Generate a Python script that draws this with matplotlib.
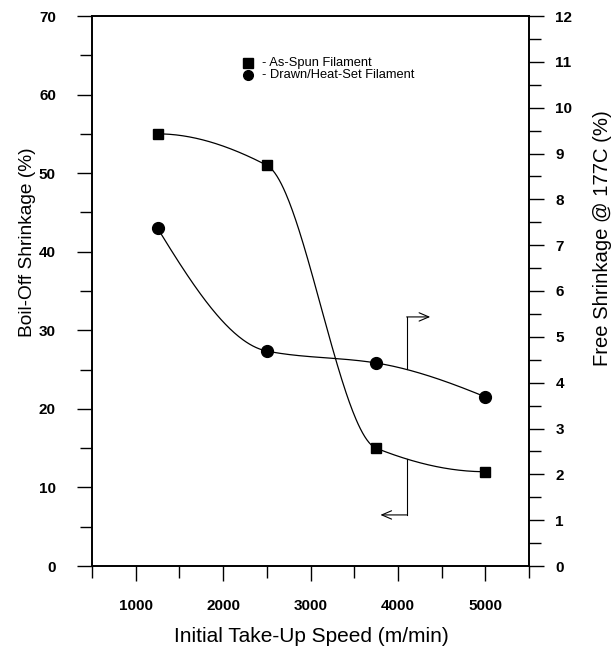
import numpy as np
import matplotlib
matplotlib.use("Agg")
import matplotlib.pyplot as plt
from matplotlib.ticker import MultipleLocator

plt.rcParams['font.family'] = ['Liberation Sans', 'DejaVu Sans']

# data
speed = [1250, 2500, 3750, 5000]
boil_off = [55.0, 51.0, 15.0, 12.0]          # as-spun filament, left axis
free_shrink = [7.37, 4.69, 4.43, 3.69]       # drawn/heat-set filament, right axis
legend_labels = ['- As-Spun Filament', '- Drawn/Heat-Set Filament']


def pchip(x, y, xs):
    # shape preserving cubic (Fritsch-Carlson), same as scipy's PchipInterpolator
    x = np.asarray(x, float)
    y = np.asarray(y, float)
    h = np.diff(x)
    d = np.diff(y) / h
    n = len(x)
    m = np.zeros(n)
    for k in range(1, n - 1):
        if d[k - 1] * d[k] > 0:
            w1 = 2 * h[k] + h[k - 1]
            w2 = h[k] + 2 * h[k - 1]
            m[k] = (w1 + w2) / (w1 / d[k - 1] + w2 / d[k])

    def end(h0, h1, d0, d1):
        s = ((2 * h0 + h1) * d0 - h0 * d1) / (h0 + h1)
        if np.sign(s) != np.sign(d0):
            s = 0.0
        elif np.sign(d0) != np.sign(d1) and abs(s) > 3 * abs(d0):
            s = 3 * d0
        return s

    m[0] = end(h[0], h[1], d[0], d[1])
    m[-1] = end(h[-1], h[-2], d[-1], d[-2])
    xs = np.asarray(xs, float)
    i = np.clip(np.searchsorted(x, xs) - 1, 0, n - 2)
    t = (xs - x[i]) / h[i]
    h00 = 2 * t**3 - 3 * t**2 + 1
    h10 = t**3 - 2 * t**2 + t
    h01 = -2 * t**3 + 3 * t**2
    h11 = t**3 - t**2
    return h00 * y[i] + h10 * h[i] * m[i] + h01 * y[i + 1] + h11 * h[i] * m[i + 1]


fig = plt.figure(figsize=(6.16, 6.5), dpi=100)
ax = fig.add_axes([92 / 616, 84 / 650, 437 / 616, 550 / 650])
ax2 = ax.twinx()

xs = np.linspace(speed[0], speed[-1], 300)
ax.plot(xs, pchip(speed, boil_off, xs), color='black', lw=0.9)
ax.plot(speed, boil_off, 's', color='black', ms=7.5)
ax2.plot(xs, pchip(speed, free_shrink, xs), color='black', lw=0.9)
ax2.plot(speed, free_shrink, 'o', color='black', ms=8.5)

# axis-pointer arrows
xa = 4100
y_sq = float(pchip(speed, boil_off, [xa])[0])
y_ci = float(pchip(speed, free_shrink, [xa])[0]) * 70 / 12
ax.plot([xa, xa], [y_ci, 31.7], color='black', lw=0.8)
ax.annotate('', xy=(4370, 31.7), xytext=(xa, 31.7),
            arrowprops=dict(arrowstyle='->,head_length=0.7,head_width=0.3', lw=0.8, color='black',
                            shrinkA=0, shrinkB=0))
ax.plot([xa, xa], [y_sq, 6.5], color='black', lw=0.8)
ax.annotate('', xy=(3800, 6.5), xytext=(xa, 6.5),
            arrowprops=dict(arrowstyle='->,head_length=0.7,head_width=0.3', lw=0.8, color='black',
                            shrinkA=0, shrinkB=0))

ax.set_xlim(500, 5500)
ax.set_ylim(0, 70)
ax2.set_ylim(0, 12)

ax.xaxis.set_major_locator(MultipleLocator(1000))
ax.xaxis.set_minor_locator(MultipleLocator(500))
ax.yaxis.set_major_locator(MultipleLocator(10))
ax.yaxis.set_minor_locator(MultipleLocator(5))
ax2.yaxis.set_major_locator(MultipleLocator(1))
ax2.yaxis.set_minor_locator(MultipleLocator(0.5))

for a in (ax, ax2):
    for s in a.spines.values():
        s.set_linewidth(1.2)
ax.tick_params(which='major', direction='out', length=11, width=1.0, labelsize=11)
ax.tick_params(which='minor', direction='out', length=8.5, width=1.0)
ax.tick_params(axis='x', which='major', pad=13)
ax.tick_params(axis='y', which='major', pad=15)
ax2.tick_params(which='major', direction='out', length=11, width=1.0, labelsize=11, pad=8)
ax2.tick_params(which='minor', direction='out', length=8.5, width=1.0)

ax.set_xticks([1000, 2000, 3000, 4000, 5000])
ax.set_xticklabels(['1000', '2000', '3000', '4000', '5000'])
for lab in ax.get_xticklabels() + ax.get_yticklabels() + ax2.get_yticklabels():
    lab.set_fontweight('bold')

ax.set_xlabel('Initial Take-Up Speed (m/min)', fontsize=15)
ax.set_ylabel('Boil-Off Shrinkage (%)', fontsize=13.8)
ax2.set_ylabel('Free Shrinkage @ 177C (%)', fontsize=14.6)
ax.xaxis.set_label_coords(0.501, -0.129)
ax.xaxis.label.set_va('center')
ax.yaxis.set_label_coords(-0.148, 0.589)
ax.yaxis.label.set_va('center')
ax2.yaxis.set_label_coords(1.169, 0.596)
ax2.yaxis.label.set_va('center')

# legend drawn by hand (markers + text), rows sit very close in the original
for marker, ms, label, y in zip(['s', 'o'], [6.5, 7], legend_labels, [0.9145, 0.892]):
    ax.plot([0.357], [y], marker, color='black', ms=ms, transform=ax.transAxes, clip_on=False)
    ax.text(0.389, y, label, transform=ax.transAxes, fontsize=9.3, ha='left', va='center')

fig.savefig('out.png', dpi=100)
